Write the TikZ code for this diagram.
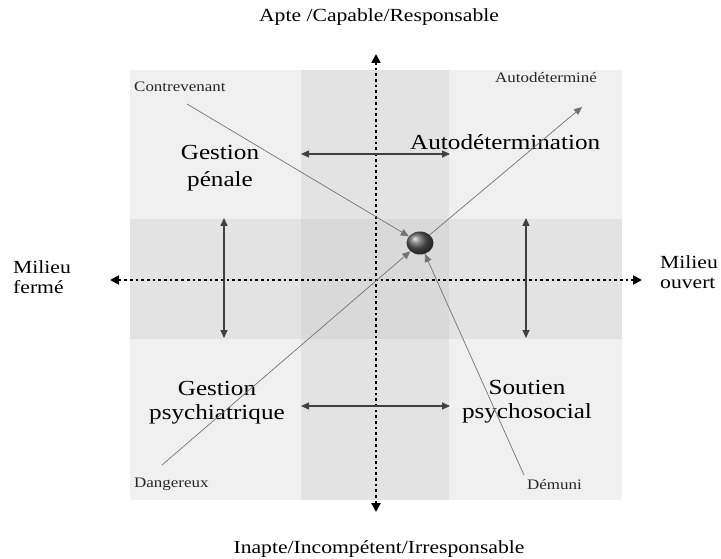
\documentclass[tikz,border=0pt]{standalone}
\usepackage{fontspec}
\setmainfont{Liberation Serif}[FakeStretch=1.17]
\usetikzlibrary{arrows.meta, shapes.geometric}

\begin{document}
\begin{tikzpicture}[
  x=1pt, y=-1pt,
  >={Triangle[length=8pt, width=7pt]},
  axisline/.style={line width=2.7pt, dash pattern=on 2.7pt off 3pt,
                   {Triangle[length=9pt, width=9pt]}-{Triangle[length=9pt, width=9pt]}},
  spanarrow/.style={<->, line width=1.1pt, draw=black!75},
  route/.style={->, line width=0.7pt, draw=black!55},
  cornerlabel/.style={font=\fontsize{14.5}{17}\selectfont, text=black!85, inner sep=0pt},
  zone/.style={font=\fontsize{21.5}{24}\selectfont, align=center, inner sep=0pt},
  pole/.style={font=\fontsize{18.5}{20}\selectfont, align=left, inner sep=0pt},
]
\useasboundingbox (0,0) rectangle (721,559);

% background square and bands
\fill[black!6] (130,70) rectangle (622,500);
\fill[black!11] (301,70) rectangle (449,500);
\fill[black!11] (130,219) rectangle (622,339);
\fill[black!15] (301,219) rectangle (449,339);

% axis ends
\coordinate (axisN) at (376,54);
\coordinate (axisS) at (376,512);
\coordinate (axisW) at (110,280);
\coordinate (axisE) at (642,280);

% axis labels
\node[pole, anchor=base] (apte) at (379,22) {Apte /Capable/Responsable};
\node[pole, anchor=base] (inapte) at (379,553) {Inapte/Incompétent/Irresponsable};
\node[pole, anchor=base west] (ferme) at (13,293) {Milieu\\fermé};
\node[pole, anchor=base west] (ouvert) at (660,288) {Milieu\\ouvert};

% corner labels
\node[cornerlabel, anchor=base west] (contrevenant) at (134,92) {Contrevenant};
\node[cornerlabel, anchor=base west] (autodetermine) at (495,83) {Autodéterminé};
\node[cornerlabel, anchor=base west] (dangereux) at (134,487) {Dangereux};
\node[cornerlabel, anchor=base west] (demuni) at (527,489) {Démuni};

% zone labels
\node[zone, font=\fontsize{21.5}{28}\selectfont, anchor=base] (penale) at (220,187) {Gestion\\pénale};
\node[zone, anchor=base west] (autodetermination) at (410,150) {Autodétermination};
\node[zone, anchor=base] (psychiatrique) at (217,419) {Gestion\\psychiatrique};
\node[zone, anchor=base] (psychosocial) at (527,418) {Soutien\\psychosocial};

% axes
\draw[axisline] (axisS) -- (axisN);
\draw[axisline] (axisW) -- (axisE);

% transitions between zones
\coordinate (leftT) at (224,218);
\coordinate (leftB) at (224,338);
\coordinate (rightT) at (526,218);
\coordinate (rightB) at (526,338);
\coordinate (upL) at (301,154);
\coordinate (upR) at (450,154);
\coordinate (lowL) at (301,406);
\coordinate (lowR) at (450,406);
\draw[spanarrow] (leftT) -- (leftB);
\draw[spanarrow] (rightT) -- (rightB);
\draw[spanarrow] (upL) -- (upR);
\draw[spanarrow] (lowL) -- (lowR);

% trajectories towards the centre
\node[ellipse, minimum width=27pt, minimum height=23pt, inner sep=0pt,
      ball color=black!65] (ball) at (420,243) {};
\coordinate (contrevenantEnd) at (187,104);
\coordinate (autodetermineEnd) at (582,107);
\coordinate (dangereuxEnd) at (162,465);
\coordinate (demuniEnd) at (524,475);
\draw[route] (contrevenantEnd) -- (ball);
\draw[route] (ball) -- (autodetermineEnd);
\draw[route] (dangereuxEnd) -- (ball);
\draw[route] (demuniEnd) -- (ball);

\end{tikzpicture}
\end{document}
